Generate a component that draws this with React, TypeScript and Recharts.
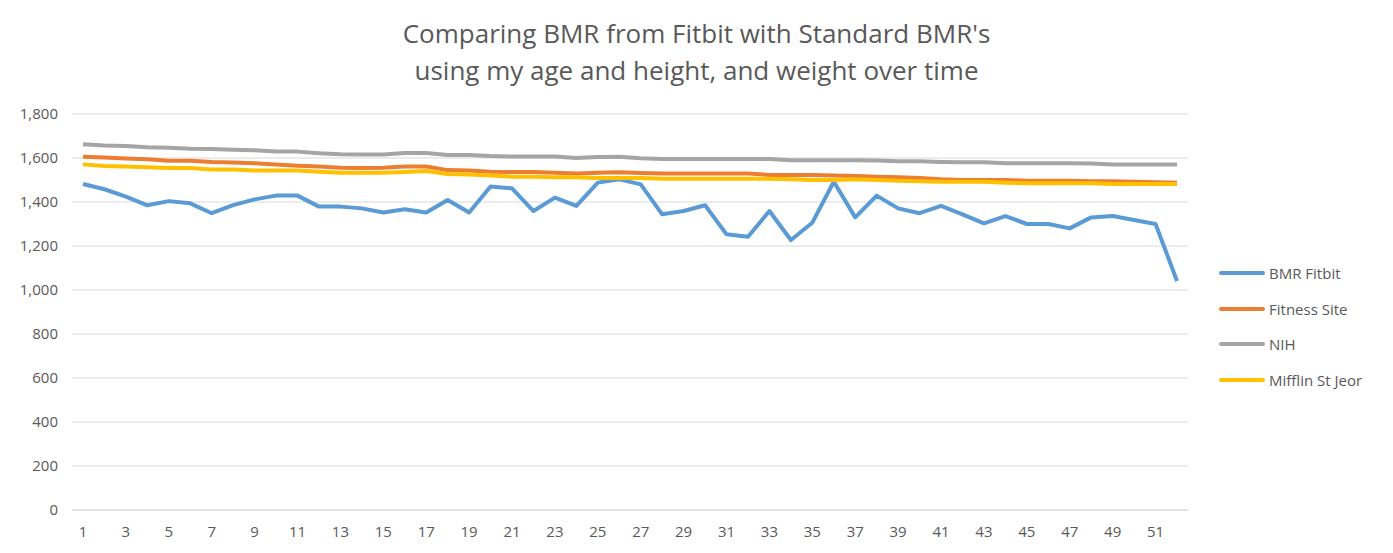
import React from 'react';
import { LineChart, Line, XAxis, YAxis, CartesianGrid } from 'recharts';

// Weekly BMR readings vs. standard formulas
const weeks = Array.from({ length: 52 }, (_, i) => String(i + 1));

const bmrFitbit = [
  1482, 1458, 1424, 1385, 1404, 1394, 1349, 1386, 1412, 1429, 1429, 1379, 1379,
  1371, 1352, 1367, 1352, 1409, 1352, 1470, 1462, 1359, 1420, 1382, 1488, 1503,
  1480, 1344, 1359, 1385, 1253, 1242, 1359, 1227, 1306, 1492, 1330, 1429, 1371,
  1349, 1382, 1344, 1303, 1336, 1300, 1300, 1280, 1330, 1336, 1318, 1300, 1041,
];

const fitnessSite = [
  1606, 1602, 1598, 1594, 1588, 1588, 1582, 1579, 1576, 1571, 1565, 1561, 1556,
  1554, 1556, 1561, 1561, 1545, 1543, 1538, 1536, 1536, 1533, 1530, 1533, 1535,
  1532, 1530, 1530, 1530, 1530, 1530, 1523, 1523, 1523, 1521, 1518, 1515, 1512,
  1509, 1503, 1500, 1500, 1500, 1497, 1497, 1497, 1494, 1494, 1492, 1490, 1488,
];

const nih = [
  1662, 1657, 1655, 1649, 1647, 1642, 1641, 1637, 1635, 1630, 1629, 1622, 1617,
  1616, 1616, 1623, 1623, 1614, 1614, 1609, 1607, 1607, 1607, 1600, 1605, 1606,
  1599, 1596, 1596, 1596, 1596, 1596, 1596, 1590, 1590, 1590, 1590, 1589, 1585,
  1585, 1582, 1581, 1581, 1576, 1576, 1576, 1576, 1575, 1571, 1571, 1571, 1571,
];

const mifflin = [
  1571, 1564, 1561, 1558, 1555, 1555, 1548, 1548, 1543, 1543, 1543, 1538, 1533,
  1533, 1533, 1536, 1541, 1527, 1525, 1521, 1515, 1515, 1512, 1512, 1509, 1509,
  1509, 1506, 1506, 1506, 1506, 1506, 1506, 1503, 1500, 1500, 1503, 1500, 1497,
  1494, 1492, 1492, 1492, 1488, 1485, 1485, 1485, 1485, 1482, 1482, 1482, 1482,
];

const yTicks = [0, 200, 400, 600, 800, 1000, 1200, 1400, 1600, 1800];

const series = [
  { key: 'fitbit', name: 'BMR Fitbit', color: '#5b9bd5' },
  { key: 'site', name: 'Fitness Site', color: '#ed7d31' },
  { key: 'nih', name: 'NIH', color: '#a5a5a5' },
  { key: 'mifflin', name: 'Mifflin St Jeor', color: '#ffc000' },
];

const data = weeks.map((w, i) => ({
  week: w,
  fitbit: bmrFitbit[i],
  site: fitnessSite[i],
  nih: nih[i],
  mifflin: mifflin[i],
}));

const textColor = '#595959';
const font = '"Open Sans", "Noto Sans", sans-serif';

export default function App() {
  return (
    <div style={{ position: 'absolute', left: 0, top: 0, width: 1393, height: 553, background: '#fff' }}>
      <div
        style={{
          position: 'absolute',
          top: 15,
          left: 0,
          width: 1393,
          textAlign: 'center',
          fontFamily: font,
          fontSize: 26,
          lineHeight: '37px',
          color: textColor,
        }}
      >
        Comparing BMR from Fitbit with Standard BMR's
        <br />
        using my age and height, and weight over time
      </div>

      {/* legend, placed by hand like Excel's right-side legend */}
      <div
        style={{
          position: 'absolute',
          left: 1219,
          top: 255,
          fontFamily: font,
          fontSize: 15,
          color: textColor,
        }}
      >
        {series.map((s) => (
          <div key={s.key} style={{ display: 'flex', alignItems: 'center', height: 35.7 }}>
            <span
              style={{
                display: 'inline-block',
                width: 46,
                height: 4,
                borderRadius: 2,
                background: s.color,
                marginRight: 4,
              }}
            />
            <span>{s.name}</span>
          </div>
        ))}
      </div>

      <LineChart
        width={1393}
        height={553}
        data={data}
        margin={{ top: 114, right: 205, bottom: 13, left: 10 }}
      >
        <CartesianGrid vertical={false} stroke="#d9d9d9" />
        <XAxis
          dataKey="week"
          interval={1}
          padding={{ left: 11, right: 11 }}
          tickLine={false}
          axisLine={{ stroke: '#d9d9d9' }}
          height={30}
          tick={{ fill: textColor, fontSize: 15, fontFamily: font }}
          dy={8}
        />
        <YAxis
          domain={[0, 1800]}
          ticks={yTicks}
          width={62}
          axisLine={false}
          tickLine={false}
          tick={{ fill: textColor, fontSize: 15, fontFamily: font }}
          tickFormatter={(v) => Number(v).toLocaleString('en-US')}
          dx={-6}
        />
        {series.map((s) => (
          <Line
            key={s.key}
            dataKey={s.key}
            name={s.name}
            stroke={s.color}
            strokeWidth={4}
            dot={false}
            activeDot={false}
            strokeLinejoin="round"
            isAnimationActive={false}
          />
        ))}
      </LineChart>
    </div>
  );
}
